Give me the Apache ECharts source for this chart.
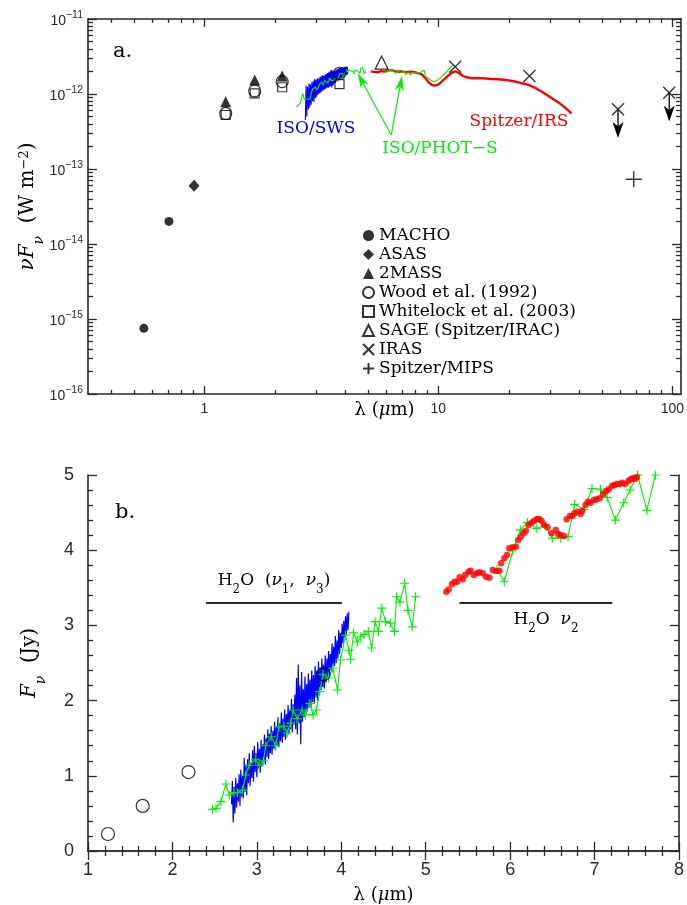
<!DOCTYPE html>
<html>
<head>
<meta charset="utf-8">
<script src="https://cdn.jsdelivr.net/npm/echarts@6/dist/echarts.min.js"></script>
<style>
html, body { margin: 0; padding: 0; background: #fff; }
#chart { width: 687px; height: 905px; }
</style>
</head>
<body>
<div id="chart"></div>
<script>
// ---------- Panel a: photometry, wavelength (µm) vs nuFnu (W m^-2) ----------
const machoA     = [[0.551, 7.5e-16], [0.705, 2.0e-14]];
const asasA      = [[0.903, 6.0e-14]];
const twoMassA   = [[1.233, 7.9e-13], [1.64, 1.54e-12], [2.15, 1.74e-12]];
const woodA      = [[1.233, 5.5e-13], [1.64, 1.10e-12], [2.15, 1.46e-12], [3.78, 1.89e-12]];
const whitelockA = [[1.233, 5.25e-13], [1.64, 1.02e-12], [2.15, 1.23e-12], [3.78, 1.35e-12]];
const sageA      = [[5.72, 2.62e-12]];
const irasA      = [[11.8, 2.31e-12], [24.5, 1.74e-12], [58.6, 6.25e-13], [97, 1.04e-12]];
const mipsA      = [[68.4, 7.3e-14]];
// upper limits: [lambda, from, lambda, to]
const irasLimits = [[58.6, 6.25e-13, 58.6, 2.6e-13], [97, 1.04e-12, 97, 4.3e-13]];
// callout arrows for the ISO/PHOT-S label: [lambda0, y0, lambda1, y1]
const photCallouts = [[6.29, 2.84e-13, 4.52, 1.89e-12], [6.29, 2.84e-13, 6.99, 1.74e-12]];

// spectra for panel a, nuFnu in units of 1e-12 W m^-2
const SPEC_UNIT = 1e-12;
const swsA = [[2.70,0.45],[2.72,1.30],[2.74,0.50],[2.76,1.25],[2.78,0.62],[2.80,1.38],[2.82,0.66],[2.84,1.35],
  [2.86,0.72],[2.88,1.45],[2.90,0.80],[2.92,1.50],[2.94,0.78],[2.96,1.58],[2.98,0.88],[3.00,1.55],[3.02,0.92],
  [3.04,1.62],[3.06,0.98],[3.08,1.60],[3.10,1.02],[3.12,1.70],[3.14,1.05],[3.16,1.72],[3.18,1.08],[3.20,1.78],
  [3.22,1.12],[3.24,1.75],[3.26,1.15],[3.28,1.82],[3.30,1.18],[3.32,1.85],[3.34,1.22],[3.36,1.90],[3.38,1.20],
  [3.40,1.95],[3.42,1.25],[3.44,2.00],[3.46,1.28],[3.48,2.10],[3.50,1.22],[3.52,2.05],[3.54,1.30],[3.56,1.98],
  [3.58,1.35],[3.60,2.08],[3.62,1.40],[3.64,2.05],[3.66,1.45],[3.68,2.12],[3.70,1.48],[3.72,2.15],[3.74,1.52],
  [3.76,2.20],[3.78,1.58],[3.80,2.25],[3.82,1.62],[3.84,2.22],[3.86,1.65],[3.88,2.28],[3.90,1.70],[3.92,2.25],
  [3.94,1.72],[3.96,2.30],[3.98,1.75],[4.00,2.28],[4.02,1.78],[4.04,2.32],[4.06,1.80],[4.08,2.30],[4.10,1.85]];
const irsA = [[5.15,2.00],[5.3,1.97],[5.5,1.95],[5.7,2.02],[5.9,1.98],[6.1,2.05],[6.3,2.08],[6.5,2.02],[6.8,1.98],
  [7.0,2.00],[7.3,1.96],[7.6,1.98],[7.9,1.95],[8.2,1.90],[8.5,1.82],[8.8,1.62],[9.1,1.42],[9.4,1.32],[9.7,1.29],
  [10.0,1.33],[10.3,1.45],[10.7,1.62],[11.1,1.80],[11.5,1.95],[11.9,2.00],[12.3,1.88],[12.8,1.72],[13.4,1.66],
  [14.0,1.62],[15.0,1.63],[16.0,1.61],[17.0,1.58],[18.0,1.57],[19.0,1.55],[20.0,1.52],[21.0,1.48],[22.0,1.43],
  [23.0,1.38],[24.0,1.33],[25.0,1.27],[26.0,1.20],[27.0,1.12],[28.0,1.05],[29.0,0.98],[30.0,0.91],[31.0,0.85],
  [32.0,0.80],[33.0,0.75],[34.0,0.70],[35.0,0.65],[36.0,0.60],[37.0,0.55]];
const photA1 = [[2.476,0.67],[2.516,0.68],[2.575,0.76],[2.634,1.02],[2.673,0.84],[2.73,0.85],[2.77,0.84],[2.83,0.86],
  [2.869,1.06],[2.908,1.18],[2.987,1.23],[3.026,1.13],[3.077,1.17],[3.105,1.35],[3.17,1.44],[3.223,1.30],[3.262,1.52],
  [3.32,1.50],[3.36,1.40],[3.40,1.50],[3.43,1.64],[3.477,1.52],[3.536,1.59],[3.576,1.52],[3.627,1.62],[3.666,1.48],
  [3.705,1.52],[3.744,1.70],[3.783,1.86],[3.85,1.79],[3.90,1.87],[3.956,1.62],[3.99,1.91],[4.05,2.13],[4.09,1.96],
  [4.11,1.86],[4.145,2.10],[4.19,1.99],[4.23,2.02],[4.27,2.02],[4.32,2.03],[4.36,1.86],[4.40,2.08],[4.44,1.97],
  [4.48,2.16],[4.525,2.02],[4.58,1.98],[4.63,1.89],[4.655,2.18],[4.695,2.12],[4.75,2.25],[4.79,2.00],[4.84,1.85],[4.88,2.08]];
const photA2 = [[5.845,1.92],[5.93,1.81],[6.03,1.98],[6.12,2.09],[6.21,2.11],[6.32,2.04],[6.41,2.03],[6.5,1.92],
  [6.6,1.89],[6.69,1.88],[6.76,2.05],[6.87,1.98],[6.97,2.07],[7.07,2.04],[7.15,1.97],[7.25,1.82],[7.35,1.89],
  [7.42,1.94],[7.51,2.00],[7.62,1.78],[7.72,1.94],[7.9,1.90],[8.1,1.95],[8.3,1.88],[8.5,2.02],[8.7,2.05],[8.8,1.72],
  [9.0,1.65],[9.2,1.55],[9.4,1.50],[9.6,1.45],[9.8,1.48],[10.0,1.58],[10.2,1.62],[10.5,1.80],[10.8,1.92],[11.0,2.08],
  [11.2,2.15],[11.5,2.40]];

// ---------- Panel b: wavelength (µm) vs Fnu (Jy) ----------
const woodB = [[1.236,0.226],[1.648,0.60],[2.19,1.05],[3.79,2.35]];
const swsB = [[2.70,0.62],[2.71,0.93],[2.72,0.38],[2.73,0.85],[2.74,0.50],[2.75,0.97],[2.76,0.58],[2.77,0.90],
  [2.78,0.66],[2.79,1.02],[2.80,0.60],[2.81,1.08],[2.82,0.72],[2.83,1.00],[2.84,0.70],[2.85,1.24],[2.86,0.78],
  [2.87,1.15],[2.88,0.74],[2.89,1.22],[2.90,0.90],[2.91,1.30],[2.92,0.86],[2.93,1.18],[2.94,0.97],[2.95,1.34],
  [2.96,0.92],[2.97,1.40],[2.98,1.05],[2.99,1.30],[3.00,0.98],[3.01,1.45],[3.02,1.10],[3.03,1.36],[3.04,1.04],
  [3.05,1.48],[3.06,1.12],[3.07,1.42],[3.08,1.18],[3.09,1.55],[3.10,1.15],[3.11,1.50],[3.12,1.25],[3.13,1.62],
  [3.14,1.22],[3.15,1.56],[3.16,1.30],[3.17,1.66],[3.18,1.28],[3.19,1.60],[3.20,1.36],[3.21,1.72],[3.22,1.34],
  [3.23,1.66],[3.24,1.40],[3.25,1.78],[3.26,1.38],[3.27,1.70],[3.28,1.46],[3.29,1.84],[3.30,1.44],[3.31,1.76],
  [3.32,1.52],[3.33,1.88],[3.34,1.48],[3.35,1.82],[3.36,1.58],[3.37,1.94],[3.38,1.55],[3.39,1.88],[3.40,1.62],
  [3.41,2.02],[3.42,1.58],[3.43,1.95],[3.44,1.68],[3.45,2.08],[3.46,1.62],[3.47,2.30],[3.48,1.55],[3.49,2.48],
  [3.50,1.70],[3.51,2.20],[3.52,1.42],[3.53,2.38],[3.54,1.72],[3.55,2.15],[3.56,1.78],[3.57,2.32],[3.58,1.82],
  [3.59,2.22],[3.60,1.86],[3.61,2.36],[3.62,1.92],[3.63,2.28],[3.64,1.90],[3.65,2.40],[3.66,1.98],[3.67,2.34],
  [3.68,1.96],[3.69,2.46],[3.70,2.04],[3.71,2.40],[3.72,2.00],[3.73,2.52],[3.74,2.08],[3.75,2.44],[3.76,2.14],
  [3.77,2.56],[3.78,2.18],[3.79,2.48],[3.80,2.16],[3.81,2.60],[3.82,2.24],[3.83,2.56],[3.84,2.30],[3.85,2.66],
  [3.86,2.34],[3.87,2.62],[3.88,2.40],[3.89,2.76],[3.90,2.44],[3.91,2.72],[3.92,2.46],[3.93,2.86],[3.94,2.50],
  [3.95,2.80],[3.96,2.56],[3.97,2.94],[3.98,2.62],[3.99,2.90],[4.00,2.70],[4.01,3.02],[4.02,2.76],[4.03,3.06],
  [4.04,2.84],[4.05,3.12],[4.06,2.88],[4.07,3.16],[4.08,2.94],[4.09,3.18]];
const photB1 = [[2.476,0.554],[2.516,0.567],[2.575,0.656],[2.634,0.891],[2.673,0.745],[2.73,0.776],[2.77,0.776],
  [2.83,0.81],[2.869,1.01],[2.908,1.14],[2.987,1.22],[3.026,1.14],[3.077,1.20],[3.105,1.40],[3.17,1.52],[3.223,1.40],
  [3.262,1.65],[3.32,1.66],[3.36,1.57],[3.40,1.70],[3.43,1.875],[3.477,1.76],[3.536,1.875],[3.576,1.81],[3.627,1.96],
  [3.666,1.81],[3.705,1.875],[3.744,2.12],[3.783,2.35],[3.85,2.30],[3.90,2.43],[3.956,2.14],[3.99,2.54],[4.05,2.87],
  [4.09,2.67],[4.11,2.55],[4.145,2.90],[4.19,2.78],[4.23,2.85],[4.27,2.88],[4.32,2.92],[4.36,2.70],[4.40,3.05],
  [4.44,2.92],[4.48,3.23],[4.525,3.05],[4.58,3.03],[4.63,2.92],[4.655,3.38],[4.695,3.31],[4.75,3.56],[4.79,3.20],
  [4.84,2.98],[4.88,3.38]];
const photB2 = [[5.845,3.745],[5.93,3.58],[6.03,3.99],[6.12,4.27],[6.206,4.37],[6.316,4.29],[6.41,4.34],[6.50,4.16],
  [6.60,4.16],[6.686,4.18],[6.764,4.61],[6.874,4.54],[6.97,4.82],[7.07,4.81],[7.15,4.70],[7.246,4.40],[7.345,4.63],
  [7.42,4.80],[7.51,5.0],[7.62,4.53],[7.72,5.0]];
const irsB = [[5.244,3.449],[5.272,3.479],[5.311,3.551],[5.343,3.582],[5.373,3.582],[5.402,3.64],[5.44,3.613],
  [5.468,3.67],[5.508,3.714],[5.531,3.727],[5.57,3.67],[5.609,3.693],[5.637,3.706],[5.676,3.693],[5.715,3.648],
  [5.755,3.635],[5.794,3.737],[5.833,3.723],[5.873,3.727],[5.892,3.826],[5.931,3.892],[5.962,3.936],[5.99,4.025],
  [6.029,4.038],[6.068,4.047],[6.096,4.136],[6.127,4.18],[6.159,4.225],[6.186,4.26],[6.218,4.335],[6.253,4.366],
  [6.285,4.392],[6.316,4.411],[6.344,4.415],[6.371,4.392],[6.403,4.335],[6.442,4.305],[6.489,4.225],[6.539,4.269],
  [6.568,4.215],[6.598,4.202],[6.638,4.189],[6.669,4.411],[6.709,4.455],[6.736,4.455],[6.763,4.491],[6.795,4.512],
  [6.834,4.481],[6.854,4.525],[6.893,4.601],[6.92,4.645],[6.952,4.632],[6.991,4.668],[7.022,4.677],[7.062,4.69],
  [7.101,4.747],[7.14,4.787],[7.168,4.81],[7.207,4.854],[7.235,4.867],[7.266,4.88],[7.298,4.88],[7.329,4.898],
  [7.364,4.88],[7.404,4.925],[7.431,4.943],[7.455,4.956],[7.482,4.951],[7.502,4.969]];
// water band extents: [lambda start, lambda end, Fnu level]
const h2oStretch = [2.398, 4.007, 3.30];
const h2oBend    = [5.40, 7.21, 3.30];

// ---------- tick values ----------
const xMajorA = [1, 10, 100];
const xMinorA = [0.4,0.5,0.6,0.7,0.8,0.9,2,3,4,5,6,7,8,9,20,30,40,50,60,70,80,90];
const yMajorA = [1e-16, 1e-15, 1e-14, 1e-13, 1e-12, 1e-11];
const minorMultipliers = [2,3,4,5,6,7,8,9];
const yMinorA = [];
yMajorA.slice(0, -1).forEach(d => minorMultipliers.forEach(m => yMinorA.push(m * d)));

const INK = '#2a2a2a';
const SERIF = 'DejaVu Serif';
const SANS = 'Liberation Sans';
const BLUE = '#0000ff', GREEN = '#00ee00', RED = '#ff0000';
const X_PATH = 'path://M0,0L10,10M10,0L0,10';
const PLUS_PATH = 'path://M5,0L5,10M0,5L10,5';

const scaleSpec = arr => arr.map(p => [p[0], p[1] * SPEC_UNIT]);

const chart = echarts.init(document.getElementById('chart'), null, { renderer: 'canvas' });

const lineStyle = { color: INK, width: 1.6 };
const tickStyle = { color: INK, width: 1.3 };

function logXAxis(position, ticks, len, withLabels, showLine) {
  return {
    gridIndex: 0, type: 'log', logBase: 10, min: 0.318, max: 109, position: position,
    axisLine: { show: showLine, lineStyle: lineStyle },
    axisTick: { show: true, inside: true, length: len, customValues: ticks, lineStyle: tickStyle },
    axisLabel: withLabels
      ? { show: true, customValues: ticks, margin: 8, fontFamily: SANS, fontSize: 14, color: INK,
          formatter: v => String(Math.round(v)) }
      : { show: false },
    splitLine: { show: false }
  };
}
function logYAxis(position, ticks, len, withLabels, showLine) {
  return {
    gridIndex: 0, type: 'log', logBase: 10, min: 1e-16, max: 1e-11, position: position,
    axisLine: { show: showLine, lineStyle: lineStyle },
    axisTick: { show: true, inside: true, length: len, customValues: ticks, lineStyle: tickStyle },
    axisLabel: withLabels
      ? { show: true, customValues: ticks, margin: 5, color: INK,
          formatter: v => '{b|10}{s|\u2212' + Math.round(-Math.log10(v)) + '}',
          rich: {
            b: { fontFamily: SANS, fontSize: 14, color: INK, verticalAlign: 'bottom', lineHeight: 19 },
            s: { fontFamily: SANS, fontSize: 10.5, color: INK, verticalAlign: 'top' }
          } }
      : { show: false },
    splitLine: { show: false }
  };
}
function linAxis(grid, dim, position, withLabels, extra) {
  const base = {
    gridIndex: grid, type: 'value', position: position,
    axisLine: { show: true, lineStyle: lineStyle },
    axisTick: { show: true, inside: true, length: 9, lineStyle: tickStyle },
    minorTick: { show: true, splitNumber: 5, length: 5, lineStyle: tickStyle },
    axisLabel: withLabels ? { show: true, fontFamily: SANS, fontSize: 18, color: INK, margin: dim === 'x' ? 10 : 14 } : { show: false },
    splitLine: { show: false }, minorSplitLine: { show: false }
  };
  return Object.assign(base, extra);
}

const lambdaName = {
  name: '{n|\u03bb (}{i|\u03bc}{n|m)}',
  nameLocation: 'middle',
  nameMoveOverlap: false,
  nameTextStyle: { rich: {
    n: { fontFamily: SERIF, fontSize: 18, color: '#000' },
    i: { fontFamily: SERIF, fontSize: 18, fontStyle: 'italic', color: '#000' }
  } }
};
const yNameRich = {
  i: { fontFamily: SERIF, fontSize: 20, fontStyle: 'italic', color: '#000', verticalAlign: 'top', lineHeight: 24 },
  n: { fontFamily: SERIF, fontSize: 20, color: '#000', verticalAlign: 'top', lineHeight: 24 },
  sub: { fontFamily: SERIF, fontSize: 14, fontStyle: 'italic', color: '#000', verticalAlign: 'bottom', lineHeight: 28 },
  sup: { fontFamily: SERIF, fontSize: 13, color: '#000', verticalAlign: 'top', lineHeight: 24 }
};

// arrow drawn between two data points, head at the second
function arrowRenderer(color, headLen, headHalf, width) {
  return function (params, api) {
    const a = api.coord([api.value(0), api.value(1)]);
    const b = api.coord([api.value(2), api.value(3)]);
    const dx = b[0] - a[0], dy = b[1] - a[1];
    const len = Math.hypot(dx, dy) || 1;
    const ux = dx / len, uy = dy / len, nx = -uy, ny = ux;
    const back = [b[0] - ux * headLen, b[1] - uy * headLen];
    const notch = [b[0] - ux * headLen * 0.72, b[1] - uy * headLen * 0.72];
    return {
      type: 'group',
      children: [
        { type: 'line', shape: { x1: a[0], y1: a[1], x2: notch[0], y2: notch[1] },
          style: { stroke: color, lineWidth: width } },
        { type: 'polygon',
          shape: { points: [b, [back[0] + nx * headHalf, back[1] + ny * headHalf], notch,
                            [back[0] - nx * headHalf, back[1] - ny * headHalf]] },
          style: { fill: color } }
      ]
    };
  };
}

const blackFill = { color: '#000' };
const openStyle = { color: 'rgba(0,0,0,0)', borderColor: '#000', borderWidth: 1.2 };

const legendNames = ['MACHO', 'ASAS', '2MASS', 'Wood et al. (1992)', 'Whitelock et al. (2003)',
  'SAGE (Spitzer/IRAC)', 'IRAS', 'Spitzer/MIPS'];

const option = {
  animation: false,
  backgroundColor: '#fff',
  grid: [
    { left: 88, top: 19, width: 594, height: 375 },
    { left: 88, top: 475, width: 594, height: 376 }
  ],
  xAxis: [
    Object.assign(logXAxis('bottom', xMajorA, 8, true, true), lambdaName, { nameGap: 7 }),
    logXAxis('bottom', xMinorA, 4, false, false),
    logXAxis('top', xMajorA, 8, false, true),
    logXAxis('top', xMinorA, 4, false, false),
    linAxis(1, 'x', 'bottom', true, Object.assign({ min: 1, max: 8, interval: 1 }, lambdaName, { nameGap: 35 })),
    linAxis(1, 'x', 'top', false, { min: 1, max: 8, interval: 1 })
  ],
  yAxis: [
    Object.assign(logYAxis('left', yMajorA, 9, true, true), {
      name: '{i|\u03bdF}{sub|\u03bd}{n|  (W m}{sup|\u22122}{n|)}',
      nameLocation: 'middle', nameGap: 42, nameRotate: 90, nameMoveOverlap: false,
      nameTextStyle: { rich: yNameRich }
    }),
    logYAxis('left', yMinorA, 5, false, false),
    logYAxis('right', yMajorA, 9, false, true),
    logYAxis('right', yMinorA, 5, false, false),
    linAxis(1, 'y', 'left', true, {
      min: 0, max: 5, interval: 1,
      name: '{i|F}{sub|\u03bd}{n|  (Jy)}', nameLocation: 'middle', nameGap: 40, nameRotate: 90,
      nameMoveOverlap: false,
      nameTextStyle: { rich: yNameRich }
    }),
    linAxis(1, 'y', 'right', false, { min: 0, max: 5, interval: 1 })
  ],
  legend: {
    data: legendNames,
    orient: 'vertical', left: 362, top: 227, padding: 0,
    itemWidth: 11, itemHeight: 11, itemGap: 2,
    selectedMode: false,
    textStyle: { fontFamily: SERIF, fontSize: 17, color: '#000' }
  },
  series: [
    // panel a spectra
    { name: 'ISO/SWS a', type: 'line', xAxisIndex: 0, yAxisIndex: 0, data: scaleSpec(swsA),
      showSymbol: false, lineStyle: { color: BLUE, width: 1.1 }, z: 2 },
    { name: 'Spitzer/IRS a', type: 'line', xAxisIndex: 0, yAxisIndex: 0, data: scaleSpec(irsA),
      showSymbol: false, lineStyle: { color: RED, width: 2.4 }, z: 2 },
    { name: 'ISO/PHOT-S a1', type: 'line', xAxisIndex: 0, yAxisIndex: 0, data: scaleSpec(photA1),
      showSymbol: false, lineStyle: { color: GREEN, width: 1.1 }, z: 3 },
    { name: 'ISO/PHOT-S a2', type: 'line', xAxisIndex: 0, yAxisIndex: 0, data: scaleSpec(photA2),
      showSymbol: false, lineStyle: { color: GREEN, width: 1.1 }, z: 3 },
    { name: 'PHOT-S callouts', type: 'custom', xAxisIndex: 0, yAxisIndex: 0, data: photCallouts,
      encode: { x: [0, 2], y: [1, 3] }, renderItem: arrowRenderer(GREEN, 15, 4.5, 1.2), silent: true, z: 4 },
    // panel a photometry
    { name: 'MACHO', type: 'scatter', xAxisIndex: 0, yAxisIndex: 0, data: machoA,
      symbol: 'circle', symbolSize: 9, itemStyle: blackFill, z: 5 },
    { name: 'ASAS', type: 'scatter', xAxisIndex: 0, yAxisIndex: 0, data: asasA,
      symbol: 'diamond', symbolSize: [11, 12], itemStyle: blackFill, z: 5 },
    { name: '2MASS', type: 'scatter', xAxisIndex: 0, yAxisIndex: 0, data: twoMassA,
      symbol: 'triangle', symbolSize: 11, itemStyle: blackFill, z: 5 },
    { name: 'Wood et al. (1992)', type: 'scatter', xAxisIndex: 0, yAxisIndex: 0, data: woodA,
      symbol: 'circle', symbolSize: 12, itemStyle: openStyle, z: 5 },
    { name: 'Whitelock et al. (2003)', type: 'scatter', xAxisIndex: 0, yAxisIndex: 0, data: whitelockA,
      symbol: 'rect', symbolSize: 9, itemStyle: openStyle, z: 5 },
    { name: 'SAGE (Spitzer/IRAC)', type: 'scatter', xAxisIndex: 0, yAxisIndex: 0, data: sageA,
      symbol: 'triangle', symbolSize: 13, itemStyle: openStyle, z: 5 },
    { name: 'IRAS', type: 'scatter', xAxisIndex: 0, yAxisIndex: 0, data: irasA,
      symbol: X_PATH, symbolSize: 12, itemStyle: { color: 'rgba(0,0,0,0)', borderColor: '#000', borderWidth: 1.4 }, z: 5 },
    { name: 'IRAS limits', type: 'custom', xAxisIndex: 0, yAxisIndex: 0, data: irasLimits,
      encode: { x: [0, 2], y: [1, 3] }, renderItem: arrowRenderer('#000', 16, 5.5, 1.3), silent: true, z: 5 },
    { name: 'Spitzer/MIPS', type: 'scatter', xAxisIndex: 0, yAxisIndex: 0, data: mipsA,
      symbol: PLUS_PATH, symbolSize: 16, itemStyle: { color: 'rgba(0,0,0,0)', borderColor: '#000', borderWidth: 1.4 }, z: 5 },

    // panel b
    { name: 'ISO/SWS b', type: 'line', xAxisIndex: 4, yAxisIndex: 4, data: swsB,
      showSymbol: false, lineStyle: { color: BLUE, width: 1.2 }, z: 2,
      markLine: {
        silent: true, symbol: 'none', label: { show: false },
        lineStyle: { color: INK, width: 2, type: 'solid' },
        data: [
          [{ coord: [h2oStretch[0], h2oStretch[2]] }, { coord: [h2oStretch[1], h2oStretch[2]] }],
          [{ coord: [h2oBend[0], h2oBend[2]] }, { coord: [h2oBend[1], h2oBend[2]] }]
        ]
      } },
    { name: 'ISO/PHOT-S b1', type: 'line', xAxisIndex: 4, yAxisIndex: 4, data: photB1,
      symbol: PLUS_PATH, symbolSize: 9, showSymbol: true,
      itemStyle: { color: GREEN, borderColor: GREEN, borderWidth: 1.1 },
      lineStyle: { color: GREEN, width: 1.1 }, z: 3 },
    { name: 'ISO/PHOT-S b2', type: 'line', xAxisIndex: 4, yAxisIndex: 4, data: photB2,
      symbol: PLUS_PATH, symbolSize: 9, showSymbol: true,
      itemStyle: { color: GREEN, borderColor: GREEN, borderWidth: 1.1 },
      lineStyle: { color: GREEN, width: 1.1 }, z: 3 },
    { name: 'Spitzer/IRS b', type: 'scatter', xAxisIndex: 4, yAxisIndex: 4, data: irsB,
      symbol: 'circle', symbolSize: 6.5, itemStyle: { color: RED }, z: 4 },
    { name: 'Wood b', type: 'scatter', xAxisIndex: 4, yAxisIndex: 4, data: woodB,
      symbol: 'circle', symbolSize: 13, itemStyle: openStyle, z: 5 }
  ],
  graphic: [
    { type: 'text', x: 113, y: 52, style: { text: 'a.', fontFamily: SERIF, fontSize: 21, fill: '#000',
      textAlign: 'left', textVerticalAlign: 'middle' } },
    { type: 'text', x: 316, y: 129, style: { text: 'ISO/SWS', fontFamily: SERIF, fontSize: 17, fill: BLUE,
      textAlign: 'center', textVerticalAlign: 'middle' } },
    { type: 'text', x: 519, y: 122, style: { text: 'Spitzer/IRS', fontFamily: SERIF, fontSize: 17, fill: RED,
      textAlign: 'center', textVerticalAlign: 'middle' } },
    { type: 'text', x: 440, y: 149, style: { text: 'ISO/PHOT\u2212S', fontFamily: SERIF, fontSize: 17, fill: GREEN,
      textAlign: 'center', textVerticalAlign: 'middle' } },
    { type: 'text', x: 115, y: 513, style: { text: 'b.', fontFamily: SERIF, fontSize: 21, fill: '#000',
      textAlign: 'left', textVerticalAlign: 'middle' } },
    { type: 'text', x: 274, y: 584, style: {
      text: '{n|H}{s|2}{n|O  (}{i|\u03bd}{s|1}{n|,  }{i|\u03bd}{s|3}{n|)}',
      textAlign: 'center', textVerticalAlign: 'middle',
      rich: {
        n: { fontFamily: SERIF, fontSize: 17, fill: '#000', color: '#000', verticalAlign: 'top', lineHeight: 21 },
        i: { fontFamily: SERIF, fontSize: 17, fontStyle: 'italic', fill: '#000', color: '#000', verticalAlign: 'top', lineHeight: 21 },
        s: { fontFamily: SERIF, fontSize: 12, fill: '#000', color: '#000', verticalAlign: 'bottom', lineHeight: 24 }
      } } },
    { type: 'text', x: 546, y: 623, style: {
      text: '{n|H}{s|2}{n|O  }{i|\u03bd}{s|2}',
      textAlign: 'center', textVerticalAlign: 'middle',
      rich: {
        n: { fontFamily: SERIF, fontSize: 17, fill: '#000', color: '#000', verticalAlign: 'top', lineHeight: 21 },
        i: { fontFamily: SERIF, fontSize: 17, fontStyle: 'italic', fill: '#000', color: '#000', verticalAlign: 'top', lineHeight: 21 },
        s: { fontFamily: SERIF, fontSize: 12, fill: '#000', color: '#000', verticalAlign: 'bottom', lineHeight: 24 }
      } } }
  ]
};

chart.setOption(option);
</script>
</body>
</html>
